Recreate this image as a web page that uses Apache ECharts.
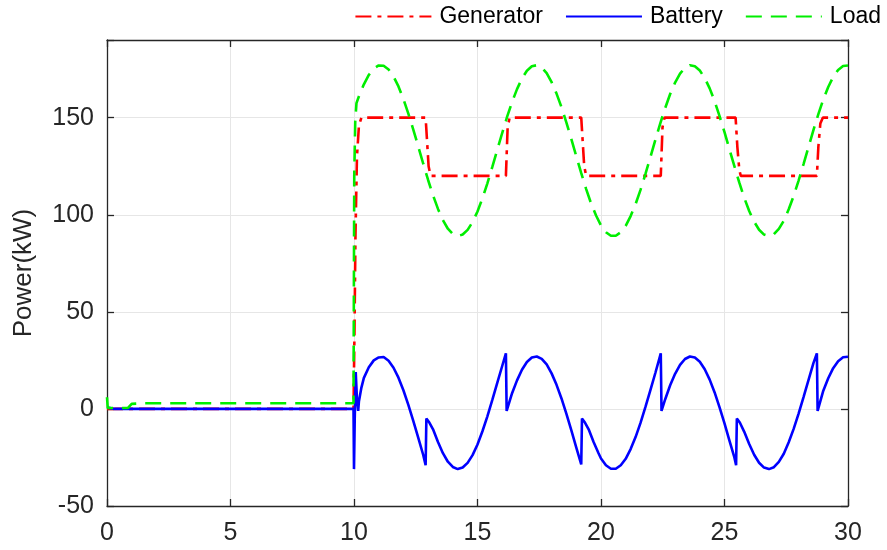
<!DOCTYPE html>
<html>
<head>
<meta charset="utf-8">
<script src="https://cdn.jsdelivr.net/npm/echarts@6/dist/echarts.min.js"></script>
<style>html,body{margin:0;padding:0;background:#fff;}#c{width:887px;height:550px;}</style>
</head>
<body>
<div id="c"></div>
<script>
const seriesNames = ['Generator', 'Battery', 'Load'];
const xTicks = [0, 5, 10, 15, 20, 25, 30];
const yTicks = [-50, 0, 50, 100, 150];

const genT = [0, 9.98, 10.02, 10.06, 10.12, 10.2, 10.3, 12.9, 13.02, 13.1, 16.15, 16.22, 16.3, 19.2, 19.32, 19.4, 22.42, 22.49, 22.57, 25.45, 25.52, 25.6, 25.66, 28.74, 28.8, 28.88, 28.98, 30];
const genV = [0, 0, 40, 90, 130, 146, 150, 150, 125, 120, 120, 145, 150, 150, 125, 120, 120, 145, 150, 150, 135, 123, 120, 120, 135, 147, 150, 150];

const batT = [0, 0.05, 0.3, 9.98, 10.0, 10.03, 10.07, 10.12, 10.17, 10.2, 10.3, 10.4, 10.6, 10.8, 11.0, 11.2, 11.4, 11.6, 11.8, 12.0, 12.2, 12.4, 12.6, 12.8, 12.9, 12.93, 13.05, 13.2, 13.4, 13.6, 13.8, 14.0, 14.2, 14.4, 14.6, 14.8, 15.0, 15.2, 15.4, 15.6, 15.8, 16.0, 16.15, 16.18, 16.4, 16.6, 16.8, 17.0, 17.2, 17.4, 17.6, 17.8, 18.0, 18.2, 18.4, 18.6, 18.8, 19.0, 19.2, 19.23, 19.35, 19.5, 19.7, 19.9, 20.0, 20.2, 20.4, 20.6, 20.8, 21.0, 21.2, 21.4, 21.6, 21.8, 22.0, 22.2, 22.42, 22.45, 22.6, 22.8, 23.0, 23.2, 23.4, 23.6, 23.8, 24.0, 24.2, 24.4, 24.6, 24.8, 25.0, 25.2, 25.4, 25.47, 25.5, 25.62, 25.8, 26.0, 26.2, 26.4, 26.6, 26.8, 27.0, 27.2, 27.4, 27.6, 27.8, 28.0, 28.2, 28.4, 28.6, 28.74, 28.77, 29.0, 29.2, 29.4, 29.6, 29.8, 30];
const batV = [0.8, 0.3, 0, 0, -31, -5, 19, 5, -1, 4, 11, 16, 21.5, 25, 26.5, 26.7, 24.8, 21.2, 16.1, 9.6, 2.1, -6.1, -14.8, -23.6, -29, -5, -7, -10.5, -17, -22.8, -27.2, -29.9, -31, -30.2, -27.8, -23.8, -18.3, -11.5, -3.8, 4.6, 13.4, 22.1, 28.6, -1, 8.1, 14.7, 20.2, 24.2, 26.5, 27, 25.8, 22.9, 18.3, 12.4, 5.4, -2.6, -11.1, -19.9, -28.6, -5, -7, -10.5, -17, -22.8, -25.5, -29, -30.8, -30.8, -29, -25.7, -20.7, -14.5, -7.2, 1, 9.7, 18.5, 28.6, -1, 5, 12.2, 18.1, 22.7, 25.7, 27, 26.5, 24.3, 20.4, 15.1, 8.5, 0.8, -7.5, -16.3, -25, -29, -5, -7, -11.8, -18.1, -23.6, -27.7, -30.2, -31, -30, -27.3, -23.1, -17.2, -10.3, -2.4, 6.1, 14.8, 23.6, 28.6, -1, 9.4, 15.8, 21, 24.6, 26.6, 26.9];

const loadT = [0, 0.03, 0.85, 1.0, 1.5, 9.98, 10.01, 10.05, 10.1, 10.2, 10.4, 10.6, 10.8, 11.0, 11.2, 11.4, 11.6, 11.8, 12.0, 12.2, 12.4, 12.6, 12.8, 13.0, 13.2, 13.4, 13.6, 13.8, 14.0, 14.2, 14.4, 14.6, 14.8, 15.0, 15.2, 15.4, 15.6, 15.8, 16.0, 16.2, 16.4, 16.6, 16.8, 17.0, 17.2, 17.4, 17.6, 17.8, 18.0, 18.2, 18.4, 18.6, 18.8, 19.0, 19.2, 19.4, 19.6, 19.8, 20.0, 20.2, 20.4, 20.6, 20.8, 21.0, 21.2, 21.4, 21.6, 21.8, 22.0, 22.2, 22.4, 22.6, 22.8, 23.0, 23.2, 23.4, 23.6, 23.8, 24.0, 24.2, 24.4, 24.6, 24.8, 25.0, 25.2, 25.4, 25.6, 25.8, 26.0, 26.2, 26.4, 26.6, 26.8, 27.0, 27.2, 27.4, 27.6, 27.8, 28.0, 28.2, 28.4, 28.6, 28.8, 29.0, 29.2, 29.4, 29.6, 29.8, 30.0];
const loadV = [6, 0.5, 0.5, 2.6, 2.9, 2.9, 120, 148, 157.5, 161.0, 167.2, 172.0, 175.3, 176.9, 176.7, 174.8, 171.2, 166.1, 159.6, 152.1, 143.9, 135.2, 126.4, 117.9, 110.0, 103.0, 97.2, 92.8, 90.1, 89.0, 89.8, 92.2, 96.2, 101.7, 108.5, 116.2, 124.6, 133.4, 142.1, 150.5, 158.1, 164.7, 170.2, 174.2, 176.5, 177.0, 175.8, 172.9, 168.3, 162.4, 155.4, 147.4, 138.9, 130.1, 121.4, 113.2, 105.8, 99.6, 94.5, 91.0, 89.2, 89.2, 91.0, 94.3, 99.3, 105.5, 112.8, 121.0, 129.7, 138.5, 147.1, 155.0, 162.2, 168.1, 172.7, 175.7, 177.0, 176.5, 174.3, 170.4, 165.1, 158.5, 150.8, 142.5, 133.7, 125.0, 116.5, 108.7, 101.9, 96.4, 92.3, 89.8, 89.0, 90.0, 92.7, 96.9, 102.8, 109.7, 117.6, 126.1, 134.8, 143.6, 151.8, 159.4, 165.8, 171.0, 174.6, 176.6, 176.9];

const pair = (t, v) => t.map((x, i) => [x, v[i]]);
const FONT = '"Liberation Sans", Arial, Helvetica, sans-serif';
const AX = '#262626';

const chart = echarts.init(document.getElementById('c'), null, {renderer: 'canvas'});

const baseX = {
  type: 'value', min: xTicks[0], max: xTicks[xTicks.length - 1], interval: 5,
  axisLine: {show: true, onZero: false, lineStyle: {color: AX, width: 1.3}},
  axisTick: {show: true, inside: true, length: 7, lineStyle: {color: AX, width: 1.3}},
  splitLine: {show: false}
};
const baseY = {
  type: 'value', min: -50, max: 190, interval: 50,
  axisLine: {show: true, onZero: false, lineStyle: {color: AX, width: 1.3}},
  axisTick: {show: true, inside: true, length: 7, lineStyle: {color: AX, width: 1.3}},
  splitLine: {show: false}
};

chart.setOption({
  backgroundColor: '#ffffff',
  animation: false,
  grid: {left: 107, right: 39, top: 40, bottom: 44, containLabel: false},
  legend: {
    right: 1, top: 0,
    itemWidth: 76, itemHeight: 14, itemGap: 22,
    itemStyle: {opacity: 0, borderWidth: 0},
    textStyle: {fontFamily: FONT, fontSize: 23, color: '#000', padding: [0, 0, 0, 3]},
    data: seriesNames
  },
  xAxis: [
    Object.assign({}, baseX, {
      position: 'bottom',
      axisLabel: {show: true, fontFamily: FONT, fontSize: 25, color: AX, margin: 15,
        formatter: v => xTicks.includes(v) ? String(v) : ''},
      splitLine: {show: true, lineStyle: {color: '#e6e6e6', width: 1}}
    }),
    Object.assign({}, baseX, {position: 'top', axisLabel: {show: false}})
  ],
  yAxis: [
    Object.assign({}, baseY, {
      position: 'left',
      name: 'Power(kW)', nameLocation: 'middle', nameGap: 70, nameRotate: 90,
      nameTextStyle: {fontFamily: FONT, fontSize: 26, color: AX},
      axisLabel: {show: true, fontFamily: FONT, fontSize: 25, color: AX, margin: 13,
        formatter: v => yTicks.includes(v) ? String(v) : ''},
      splitLine: {show: true, lineStyle: {color: '#e6e6e6', width: 1}}
    }),
    Object.assign({}, baseY, {position: 'right', axisLabel: {show: false}})
  ],
  series: [
    {
      name: seriesNames[0], type: 'line', xAxisIndex: 0, yAxisIndex: 0,
      data: pair(genT, genV), symbol: 'none', showSymbol: false,
      lineStyle: {color: '#ff0000', width: 2.6, type: [16, 6, 4, 6]},
      itemStyle: {color: '#ff0000'}
    },
    {
      name: seriesNames[1], type: 'line', xAxisIndex: 0, yAxisIndex: 0,
      data: pair(batT, batV), symbol: 'none', showSymbol: false,
      lineStyle: {color: '#0000ff', width: 2.6, type: 'solid'},
      itemStyle: {color: '#0000ff'}
    },
    {
      name: seriesNames[2], type: 'line', xAxisIndex: 0, yAxisIndex: 0,
      data: pair(loadT, loadV), symbol: 'none', showSymbol: false,
      lineStyle: {color: '#00ee00', width: 2.6, type: [16, 9]},
      itemStyle: {color: '#00ee00'}
    }
  ]
});
</script>
</body>
</html>
